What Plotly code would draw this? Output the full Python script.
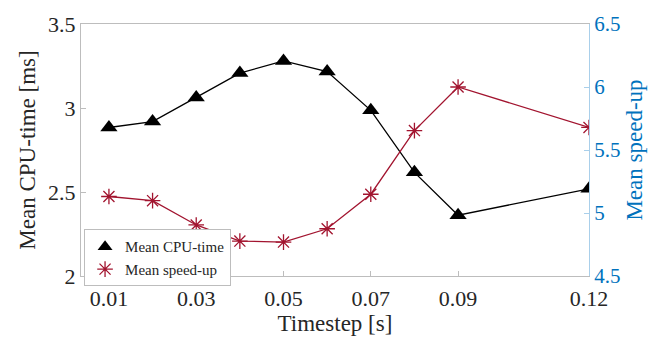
import plotly.graph_objects as go

timestep = [0.01, 0.02, 0.03, 0.04, 0.05, 0.06, 0.07, 0.08, 0.09, 0.12]
cpu_time = [2.884, 2.919, 3.063, 3.208, 3.280, 3.217, 2.986, 2.617, 2.362, 2.519]
speed_up = [5.131, 5.098, 4.905, 4.777, 4.769, 4.875, 5.149, 5.654, 6.000, 5.679]
x_ticks = [0.01, 0.03, 0.05, 0.07, 0.09, 0.12]
x_tick_labels = ["0.01", "0.03", "0.05", "0.07", "0.09", "0.12"]
y1_ticks = [2, 2.5, 3, 3.5]
y1_tick_labels = ["2", "2.5", "3", "3.5"]
y2_ticks = [4.5, 5, 5.5, 6, 6.5]
y2_tick_labels = ["4.5", "5", "5.5", "6", "6.5"]

FONT = "Liberation Serif"
RED = "#A2142F"
BLUE = "#0072BD"
AX = "#BDBDBD"
TXT = "#262626"

fig = go.Figure()
fig.add_trace(go.Scatter(
    x=timestep, y=cpu_time, mode="lines+markers", showlegend=False,
    line=dict(color="black", width=1.3),
    marker=dict(symbol="triangle-up", size=15, color="black"),
))
fig.add_trace(go.Scatter(
    x=timestep, y=speed_up, mode="lines+markers", showlegend=False, yaxis="y2",
    line=dict(color=RED, width=1.3),
    marker=dict(symbol="asterisk-open", size=13, color=RED, line=dict(color=RED, width=1.3)),
))
# legend entries (markers only, as in the reference)
fig.add_trace(go.Scatter(
    x=[None], y=[None], mode="markers", name="Mean CPU-time",
    marker=dict(symbol="triangle-up", size=13, color="black"),
))
fig.add_trace(go.Scatter(
    x=[None], y=[None], mode="markers", name="Mean speed-up", yaxis="y2",
    marker=dict(symbol="asterisk-open", size=13, color=RED, line=dict(color=RED, width=1.3)),
))

def f(size, color=TXT):
    return dict(family=FONT, size=size, color=color)

fig.update_layout(
    width=657, height=347,
    margin=dict(l=81, r=68, t=16, b=71),
    paper_bgcolor="white", plot_bgcolor="white",
    font=f(16),
    xaxis=dict(
        range=[0.0036, 0.12], tickvals=x_ticks, ticktext=x_tick_labels,
        ticks="inside", ticklen=5, tickcolor=AX, showgrid=False, zeroline=False,
        showline=True, linecolor=AX, linewidth=1, mirror=True,
        tickfont=f(22), ticklabelstandoff=3,
        title=dict(text="Timestep [s]", font=f(23), standoff=2),
    ),
    yaxis=dict(
        range=[2, 3.5], tickvals=y1_ticks, ticktext=y1_tick_labels,
        ticks="inside", ticklen=5, tickcolor=AX, showgrid=False, zeroline=False,
        showline=True, linecolor=AX, linewidth=1,
        tickfont=f(22),
        title=dict(text="Mean CPU-time [ms]", font=f(23), standoff=6),
    ),
    yaxis2=dict(
        range=[4.5, 6.5], tickvals=y2_ticks, ticktext=y2_tick_labels,
        overlaying="y", side="right", anchor="x",
        ticks="inside", ticklen=5, tickcolor="#A9CFEA", showgrid=False, zeroline=False,
        showline=True, linecolor="#A9CFEA", linewidth=1,
        tickfont=f(21, BLUE),
        title=dict(text="Mean speed-up", font=f(23, BLUE), standoff=6),
    ),
    legend=dict(
        x=0.006, y=0.185, xanchor="left", yanchor="top",
        bgcolor="white", bordercolor=AX, borderwidth=1,
        font=f(15), itemwidth=30,
        tracegroupgap=0,
    ),
)

fig.write_html("out.html")
